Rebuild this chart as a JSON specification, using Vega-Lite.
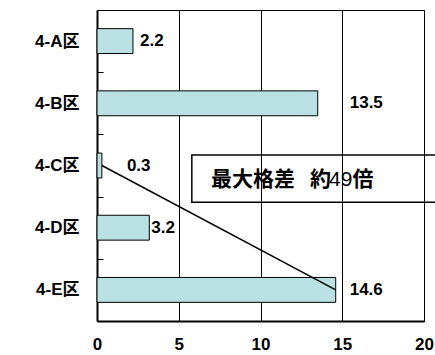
{
  "$schema": "https://vega.github.io/schema/vega-lite/v6.json",
  "width": 327,
  "height": 311,
  "autosize": {"type": "none"},
  "padding": {"left": 97, "top": 10, "right": 11, "bottom": 34},
  "background": "white",
  "config": {
    "view": {"stroke": "black", "strokeWidth": 1},
    "font": "Liberation Sans, Noto Sans CJK JP"
  },
  "data": {
    "values": [
      {"region": "4-A区", "value": 2.2},
      {"region": "4-B区", "value": 13.5},
      {"region": "4-C区", "value": 0.3},
      {"region": "4-D区", "value": 3.2},
      {"region": "4-E区", "value": 14.6}
    ]
  },
  "layer": [
    {
      "encoding": {
        "y": {
          "field": "region",
          "type": "nominal",
          "sort": null,
          "scale": {"paddingInner": 0.6, "paddingOuter": 0.3},
          "axis": {
            "title": null,
            "labelFont": "Liberation Sans, Noto Sans CJK JP",
            "labelFontSize": 17,
            "labelFontWeight": "bold",
            "labelColor": "black",
            "labelPadding": 24,
            "tickSize": -6,
            "tickOffset": 31.1,
            "labelOffset": -31.1,
            "tickColor": "black",
            "tickWidth": 1,
            "domainColor": "black",
            "domainWidth": 2
          }
        },
        "x": {
          "field": "value",
          "type": "quantitative",
          "scale": {"domain": [0, 20], "nice": false},
          "axis": {
            "title": null,
            "values": [0, 5, 10, 15, 20],
            "ticks": false,
            "grid": true,
            "gridColor": "black",
            "gridOpacity": 1,
            "gridWidth": 1,
            "domainColor": "black",
            "domainWidth": 2,
            "labelFont": "Liberation Sans",
            "labelFontSize": 17,
            "labelFontWeight": "bold",
            "labelColor": "black",
            "labelPadding": 15,
            "labelFlush": false
          }
        }
      },
      "layer": [
        {
          "mark": {"type": "bar", "fill": "#b9e0e2", "stroke": "black", "strokeWidth": 1}
        },
        {
          "transform": [{"filter": "datum.region === '4-C区' || datum.region === '4-E区'"}],
          "mark": {"type": "line", "color": "black", "strokeWidth": 1.5}
        },
        {
          "transform": [{"filter": "datum.region === '4-A区'"}],
          "mark": {"type": "text", "align": "left", "baseline": "middle", "dx": 7, "fontSize": 17, "fontWeight": "bold", "color": "black"},
          "encoding": {"text": {"field": "value", "type": "quantitative", "format": ".1f"}}
        },
        {
          "transform": [{"filter": "datum.region === '4-B区'"}],
          "mark": {"type": "text", "align": "left", "baseline": "middle", "dx": 32, "fontSize": 17, "fontWeight": "bold", "color": "black"},
          "encoding": {"text": {"field": "value", "type": "quantitative", "format": ".1f"}}
        },
        {
          "transform": [{"filter": "datum.region === '4-C区'"}],
          "mark": {"type": "text", "align": "left", "baseline": "middle", "dx": 25, "fontSize": 17, "fontWeight": "bold", "color": "black"},
          "encoding": {"text": {"field": "value", "type": "quantitative", "format": ".1f"}}
        },
        {
          "transform": [{"filter": "datum.region === '4-D区'"}],
          "mark": {"type": "text", "align": "left", "baseline": "middle", "dx": 2, "fontSize": 17, "fontWeight": "bold", "color": "black"},
          "encoding": {"text": {"field": "value", "type": "quantitative", "format": ".1f"}}
        },
        {
          "transform": [{"filter": "datum.region === '4-E区'"}],
          "mark": {"type": "text", "align": "left", "baseline": "middle", "dx": 14, "fontSize": 17, "fontWeight": "bold", "color": "black"},
          "encoding": {"text": {"field": "value", "type": "quantitative", "format": ".1f"}}
        }
      ]
    },
    {
      "data": {"values": [{"note": "最大格差 約49倍"}]},
      "layer": [
        {
          "mark": {"type": "rect", "fill": null, "fillOpacity": 0, "stroke": "black", "strokeWidth": 1.5},
          "encoding": {
            "x": {"datum": 5.8, "type": "quantitative"},
            "x2": {"datum": 22},
            "y": {"datum": 2.33, "type": "quantitative", "scale": {"domain": [0, 5], "reverse": true, "nice": false}, "axis": null},
            "y2": {"datum": 3.09}
          }
        },
        {
          "mark": {"type": "text", "align": "left", "baseline": "middle", "font": "Noto Sans CJK JP", "fontSize": 21, "fontWeight": "bold", "color": "black", "text": "最大格差"},
          "encoding": {
            "x": {"datum": 6.97, "type": "quantitative"},
            "y": {"datum": 2.73, "type": "quantitative"}
          }
        },
        {
          "mark": {"type": "text", "align": "left", "baseline": "middle", "font": "Noto Sans CJK JP", "fontSize": 21, "fontWeight": "bold", "color": "black", "text": "約"},
          "encoding": {
            "x": {"datum": 13.03, "type": "quantitative"},
            "y": {"datum": 2.73, "type": "quantitative"}
          }
        },
        {
          "mark": {"type": "text", "align": "left", "baseline": "middle", "font": "Liberation Sans", "fontSize": 21, "fontWeight": "normal", "color": "black", "text": "49"},
          "encoding": {
            "x": {"datum": 14.19, "type": "quantitative"},
            "y": {"datum": 2.73, "type": "quantitative"}
          }
        },
        {
          "mark": {"type": "text", "align": "left", "baseline": "middle", "font": "Noto Sans CJK JP", "fontSize": 21, "fontWeight": "bold", "color": "black", "text": "倍"},
          "encoding": {
            "x": {"datum": 15.62, "type": "quantitative"},
            "y": {"datum": 2.73, "type": "quantitative"}
          }
        }
      ]
    }
  ],
  "resolve": {"scale": {"y": "independent"}, "axis": {"y": "independent"}}
}
